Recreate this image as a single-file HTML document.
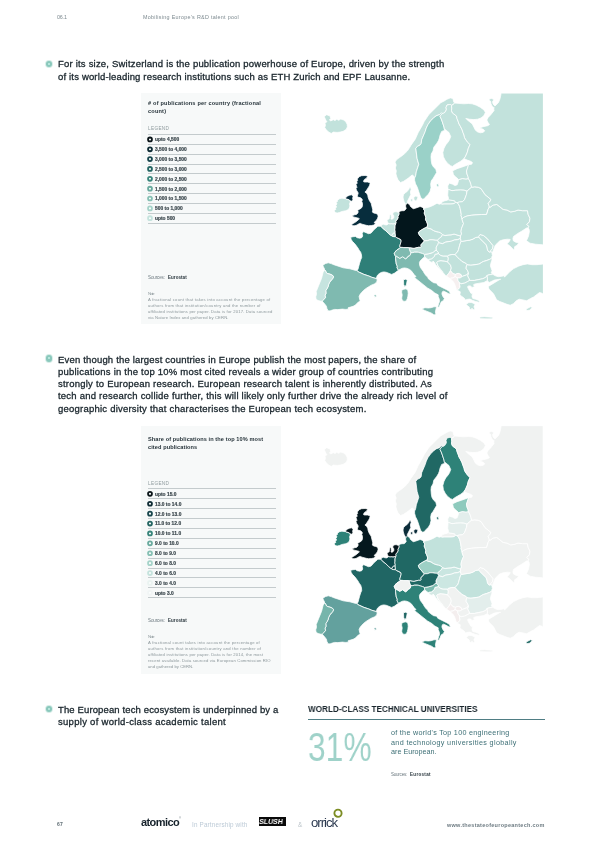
<!DOCTYPE html>
<html><head><meta charset="utf-8">
<style>
*{margin:0;padding:0;box-sizing:border-box}
html,body{width:600px;height:848px;background:#fff;overflow:hidden}
body{position:relative;font-family:"Liberation Sans",sans-serif;color:#1f2b33}
.abs{position:absolute;white-space:nowrap;will-change:transform}
.t{position:absolute;white-space:pre;transform-origin:0 50%;will-change:transform}
.bul{position:absolute;width:6.4px;height:6.4px;border-radius:50%;background:#8ac8bc;box-shadow:0 0 0 0.9px #d6ece7}
.bul:after{content:"";position:absolute;left:2.1px;top:2.1px;width:2.2px;height:2.2px;border-radius:50%;background:#c6f0e7}
.panel{position:absolute;left:141px;width:140px;background:#f7f9f9}
.rule{position:absolute;left:148px;width:128px;height:0.6px;background:#c4cbcd}
.row{will-change:transform;position:absolute;left:154.8px;font-size:4.85px;font-weight:bold;color:#39454b;-webkit-text-stroke:0.18px #39454b;white-space:nowrap;line-height:6px;letter-spacing:0.02px}
</style></head><body>

<div class="bul" style="left:45.7px;top:61.0px"></div>
<div class="bul" style="left:46.1px;top:355.2px"></div>
<div class="bul" style="left:46.1px;top:706px"></div>

<div class="panel" style="top:93px;height:231px"></div>
<div class="panel" style="top:426px;height:248px"></div>
<div class="rule" style="top:133.95px"></div><div class="rule" style="top:143.80px"></div><div class="rule" style="top:153.65px"></div><div class="rule" style="top:163.50px"></div><div class="rule" style="top:173.35px"></div><div class="rule" style="top:183.20px"></div><div class="rule" style="top:193.05px"></div><div class="rule" style="top:202.90px"></div><div class="rule" style="top:212.75px"></div><div class="rule" style="top:222.60px"></div><div class="row" style="top:137.28px">upto 4,500</div><div class="row" style="top:147.12px">3,500 to 4,000</div><div class="row" style="top:156.97px">3,000 to 3,500</div><div class="row" style="top:166.82px">2,500 to 3,000</div><div class="row" style="top:176.67px">2,000 to 2,500</div><div class="row" style="top:186.53px">1,500 to 2,000</div><div class="row" style="top:196.37px">1,000 to 1,500</div><div class="row" style="top:206.22px">500 to 1,000</div><div class="row" style="top:216.07px">upto 500</div><svg class="abs" style="left:0;top:0" width="600" height="848" viewBox="0 0 600 848"><g fill="#fbfdfd" stroke-width="1.8"><circle cx="150" cy="139.43" r="1.95" stroke="#0b1519"/><circle cx="150" cy="149.28" r="1.95" stroke="#0f2c35"/><circle cx="150" cy="159.12" r="1.95" stroke="#18464d"/><circle cx="150" cy="168.97" r="1.95" stroke="#256663"/><circle cx="150" cy="178.82" r="1.95" stroke="#38857b"/><circle cx="150" cy="188.68" r="1.95" stroke="#69aa9e"/><circle cx="150" cy="198.52" r="1.95" stroke="#86c0b4"/><circle cx="150" cy="208.38" r="1.95" stroke="#a5d3c9"/><circle cx="150" cy="218.22" r="1.95" stroke="#c5e3dd"/></g></svg>
<div class="rule" style="top:488.35px"></div><div class="rule" style="top:498.25px"></div><div class="rule" style="top:508.15px"></div><div class="rule" style="top:518.05px"></div><div class="rule" style="top:527.95px"></div><div class="rule" style="top:537.85px"></div><div class="rule" style="top:547.75px"></div><div class="rule" style="top:557.65px"></div><div class="rule" style="top:567.55px"></div><div class="rule" style="top:577.45px"></div><div class="rule" style="top:587.35px"></div><div class="rule" style="top:597.25px"></div><div class="row" style="top:491.70px">upto 15.0</div><div class="row" style="top:501.60px">13.0 to 14.0</div><div class="row" style="top:511.50px">12.0 to 13.0</div><div class="row" style="top:521.40px">11.0 to 12.0</div><div class="row" style="top:531.30px">10.0 to 11.0</div><div class="row" style="top:541.20px">9.0 to 10.0</div><div class="row" style="top:551.10px">8.0 to 9.0</div><div class="row" style="top:561.00px">6.0 to 8.0</div><div class="row" style="top:570.90px">4.0 to 6.0</div><div class="row" style="top:580.80px">3.0 to 4.0</div><div class="row" style="top:590.70px">upto 3.0</div><svg class="abs" style="left:0;top:0" width="600" height="848" viewBox="0 0 600 848"><g fill="#fbfdfd" stroke-width="1.8"><circle cx="150" cy="493.85" r="1.95" stroke="#0b1519"/><circle cx="150" cy="503.75" r="1.95" stroke="#0f2c35"/><circle cx="150" cy="513.65" r="1.95" stroke="#18464d"/><circle cx="150" cy="523.55" r="1.95" stroke="#256663"/><circle cx="150" cy="533.45" r="1.95" stroke="#38857b"/><circle cx="150" cy="543.35" r="1.95" stroke="#69aa9e"/><circle cx="150" cy="553.25" r="1.95" stroke="#86c0b4"/><circle cx="150" cy="563.15" r="1.95" stroke="#a5d3c9"/><circle cx="150" cy="573.05" r="1.95" stroke="#c5e3dd"/><circle cx="150" cy="582.95" r="1.95" stroke="#eaf3f1"/><circle cx="150" cy="592.85" r="1.95" stroke="#f1f5f5"/></g></svg>
<div class="t" style="left:57.20px;top:13.59px;font-size:5.4px;line-height:6.48px;font-weight:normal;color:#7d8a90;letter-spacing:-0.175px;">06.1</div>
<div class="t" style="left:142.80px;top:13.59px;font-size:5.4px;line-height:6.48px;font-weight:normal;color:#7d8a90;letter-spacing:0.291px;">Mobilising Europe&#x27;s R&amp;D talent pool</div>
<div class="t" style="left:57.60px;top:58.31px;font-size:9.5px;line-height:11.40px;font-weight:normal;color:#19252c;letter-spacing:0.200px;-webkit-text-stroke:0.3px #19252c;">For its size, Switzerland is the publication powerhouse of Europe, driven by the strength</div>
<div class="t" style="left:57.60px;top:70.51px;font-size:9.5px;line-height:11.40px;font-weight:normal;color:#19252c;letter-spacing:0.168px;-webkit-text-stroke:0.3px #19252c;">of its world-leading research institutions such as ETH Zurich and EPF Lausanne.</div>
<div class="t" style="left:57.60px;top:353.81px;font-size:9.5px;line-height:11.40px;font-weight:normal;color:#19252c;letter-spacing:0.180px;-webkit-text-stroke:0.3px #19252c;">Even though the largest countries in Europe publish the most papers, the share of</div>
<div class="t" style="left:57.60px;top:366.01px;font-size:9.5px;line-height:11.40px;font-weight:normal;color:#19252c;letter-spacing:0.218px;-webkit-text-stroke:0.3px #19252c;">publications in the top 10% most cited reveals a wider group of countries contributing</div>
<div class="t" style="left:57.60px;top:378.21px;font-size:9.5px;line-height:11.40px;font-weight:normal;color:#19252c;letter-spacing:0.226px;-webkit-text-stroke:0.3px #19252c;">strongly to European research. European research talent is inherently distributed. As</div>
<div class="t" style="left:57.60px;top:390.41px;font-size:9.5px;line-height:11.40px;font-weight:normal;color:#19252c;letter-spacing:0.219px;-webkit-text-stroke:0.3px #19252c;">tech and research collide further, this will likely only further drive the already rich level of</div>
<div class="t" style="left:57.60px;top:402.61px;font-size:9.5px;line-height:11.40px;font-weight:normal;color:#19252c;letter-spacing:0.227px;-webkit-text-stroke:0.3px #19252c;">geographic diversity that characterises the European tech ecosystem.</div>
<div class="t" style="left:57.60px;top:704.41px;font-size:9.5px;line-height:11.40px;font-weight:normal;color:#19252c;letter-spacing:0.127px;-webkit-text-stroke:0.3px #19252c;">The European tech ecosystem is underpinned by a</div>
<div class="t" style="left:57.60px;top:716.41px;font-size:9.5px;line-height:11.40px;font-weight:normal;color:#19252c;letter-spacing:0.288px;-webkit-text-stroke:0.3px #19252c;">supply of world-class academic talent</div>
<div class="t" style="left:148.10px;top:99.80px;font-size:5.6px;line-height:6.72px;font-weight:bold;color:#26333a;letter-spacing:0.188px;"># of publications per country (fractional</div>
<div class="t" style="left:148.10px;top:108.30px;font-size:5.6px;line-height:6.72px;font-weight:bold;color:#26333a;letter-spacing:0.188px;">count)</div>
<div class="t" style="left:148.10px;top:126.25px;font-size:4.7px;line-height:5.64px;font-weight:normal;color:#8f9b9e;letter-spacing:0.336px;">LEGEND</div>
<div class="t" style="left:148.10px;top:275.44px;font-size:4.5px;line-height:5.40px;font-weight:normal;color:#6d7a80;letter-spacing:-0.108px;">Sources:</div>
<div class="t" style="left:167.60px;top:275.44px;font-size:4.5px;line-height:5.40px;font-weight:bold;color:#26333a;letter-spacing:0.054px;">Eurostat</div>
<div class="t" style="left:148.10px;top:291.42px;font-size:4.2px;line-height:5.04px;font-weight:normal;color:#8d989c;letter-spacing:-0.823px;">Note:</div>
<div class="t" style="left:148.10px;top:297.27px;font-size:4.2px;line-height:5.04px;font-weight:normal;color:#8d989c;letter-spacing:0.224px;">A fractional count that takes into account the percentage of</div>
<div class="t" style="left:148.10px;top:303.12px;font-size:4.2px;line-height:5.04px;font-weight:normal;color:#8d989c;letter-spacing:0.219px;">authors from that institution/country and the number of</div>
<div class="t" style="left:148.10px;top:308.97px;font-size:4.2px;line-height:5.04px;font-weight:normal;color:#8d989c;letter-spacing:0.156px;">affiliated institutions per paper. Data is for 2017. Data sourced</div>
<div class="t" style="left:148.10px;top:314.82px;font-size:4.2px;line-height:5.04px;font-weight:normal;color:#8d989c;letter-spacing:0.118px;">via Nature Index and gathered by CERN.</div>
<div class="t" style="left:148.10px;top:435.70px;font-size:5.6px;line-height:6.72px;font-weight:bold;color:#26333a;letter-spacing:0.096px;">Share of publications in the top 10% most</div>
<div class="t" style="left:148.10px;top:444.20px;font-size:5.6px;line-height:6.72px;font-weight:bold;color:#26333a;letter-spacing:0.096px;">cited publications</div>
<div class="t" style="left:148.10px;top:480.75px;font-size:4.7px;line-height:5.64px;font-weight:normal;color:#8f9b9e;letter-spacing:0.336px;">LEGEND</div>
<div class="t" style="left:148.10px;top:618.34px;font-size:4.5px;line-height:5.40px;font-weight:normal;color:#6d7a80;letter-spacing:-0.108px;">Sources:</div>
<div class="t" style="left:167.60px;top:618.34px;font-size:4.5px;line-height:5.40px;font-weight:bold;color:#26333a;letter-spacing:0.054px;">Eurostat</div>
<div class="t" style="left:148.10px;top:634.22px;font-size:4.2px;line-height:5.04px;font-weight:normal;color:#8d989c;letter-spacing:-0.823px;">Note:</div>
<div class="t" style="left:148.10px;top:640.22px;font-size:4.2px;line-height:5.04px;font-weight:normal;color:#8d989c;letter-spacing:0.203px;">A fractional count takes into account the percentage of</div>
<div class="t" style="left:148.10px;top:646.22px;font-size:4.2px;line-height:5.04px;font-weight:normal;color:#8d989c;letter-spacing:0.228px;">authors from that institution/country and the number of</div>
<div class="t" style="left:148.10px;top:652.22px;font-size:4.2px;line-height:5.04px;font-weight:normal;color:#8d989c;letter-spacing:0.157px;">affiliated institutions per paper. Data is for 2014, the most</div>
<div class="t" style="left:148.10px;top:658.22px;font-size:4.2px;line-height:5.04px;font-weight:normal;color:#8d989c;letter-spacing:0.129px;">recent available. Data sourced via European Commission RIO</div>
<div class="t" style="left:148.10px;top:664.22px;font-size:4.2px;line-height:5.04px;font-weight:normal;color:#8d989c;letter-spacing:0.044px;">and gathered by CERN.</div>
<div class="t" style="left:308.00px;top:704.18px;font-size:9.0px;line-height:10.80px;font-weight:bold;color:#19252c;letter-spacing:0.000px;transform:scaleX(0.9072);">WORLD-CLASS TECHNICAL UNIVERSITIES</div>
<div class="t" style="left:390.70px;top:728.69px;font-size:7.2px;line-height:8.64px;font-weight:normal;color:#3d6f76;letter-spacing:0.278px;">of the world&#x27;s Top 100 engineering</div>
<div class="t" style="left:390.70px;top:738.59px;font-size:7.2px;line-height:8.64px;font-weight:normal;color:#3d6f76;letter-spacing:0.353px;">and technology universities globally</div>
<div class="t" style="left:390.70px;top:748.39px;font-size:7.2px;line-height:8.64px;font-weight:normal;color:#3d6f76;letter-spacing:0.003px;">are European.</div>
<div class="t" style="left:390.70px;top:772.34px;font-size:4.5px;line-height:5.40px;font-weight:normal;color:#6d7a80;letter-spacing:-0.221px;">Sources:</div>
<div class="t" style="left:409.90px;top:772.34px;font-size:4.5px;line-height:5.40px;font-weight:bold;color:#26333a;letter-spacing:0.317px;">Eurostat</div>
<div class="t" style="left:57.30px;top:821.07px;font-size:5.0px;line-height:6.00px;font-weight:bold;color:#5d6b72;letter-spacing:0.319px;">67</div>
<div class="t" style="left:192.00px;top:820.84px;font-size:6.3px;line-height:7.56px;font-weight:normal;color:#bccad6;letter-spacing:0.176px;">In Partnership with</div>
<div class="t" style="left:297.80px;top:820.84px;font-size:6.3px;line-height:7.56px;font-weight:normal;color:#bcc4ca;letter-spacing:0.176px;">&amp;</div>
<div class="t" style="left:447.00px;top:821.59px;font-size:5.5px;line-height:6.60px;font-weight:bold;color:#6d7b82;letter-spacing:0.275px;">www.thestateofeuropeantech.com</div>

<svg class="abs" style="left:0;top:0" width="600" height="848" viewBox="0 0 600 848"><defs><clipPath id="c1"><rect x="300" y="93.4" width="242.9" height="225.2"/></clipPath><clipPath id="c2"><rect x="300" y="425.7" width="242.7" height="225.9"/></clipPath></defs><g clip-path="url(#c1)"><g transform="translate(0,0)" stroke="#fff" stroke-width="0.76" stroke-linejoin="round"><path d="M324.4,116.5 324.4,117.0 326.0,120.5 327.0,121.6 325.0,123.2 325.0,123.5 325.5,125.4 324.7,127.5 326.3,129.8 328.5,132.0 331.3,133.4 333.4,132.1 337.0,132.4 340.1,132.1 343.2,131.3 346.2,129.4 347.4,126.8 347.1,124.2 345.7,121.6 343.7,120.1 340.8,119.0 338.7,120.3 336.7,119.3 335.0,120.6 333.3,119.7 330.8,120.9 329.4,120.0 330.7,118.7 330.2,116.5 329.9,116.0 326.7,114.7Z" fill="#c2e2dc"/><path d="M353.1,196.6 352.0,194.9 351.7,194.8 349.5,195.2 347.3,196.2 345.7,197.7 345.8,198.7 346.2,199.1 348.0,199.4 349.6,200.2 350.2,200.8 351.2,201.3 352.9,200.3 353.0,200.0 352.6,198.2ZM367.0,175.9 365.1,175.5 361.5,175.7 359.2,176.7 357.2,179.1 357.7,180.3 356.8,181.6 357.2,183.2 356.0,184.5 356.9,187.2 356.9,187.5 356.2,188.3 356.0,188.8 356.7,190.5 358.2,192.9 357.9,194.3 357.2,196.2 357.4,196.6 358.7,197.3 360.6,197.8 361.8,198.8 362.4,199.9 361.7,201.3 362.3,202.8 362.5,205.1 362.2,206.8 361.2,208.2 357.7,210.2 357.7,210.4 358.2,212.0 357.6,213.4 356.4,214.4 354.5,214.8 352.5,215.6 352.5,216.0 353.3,216.9 358.5,218.2 359.4,218.8 356.3,221.6 353.2,223.5 351.7,224.5 351.7,224.9 352.8,225.7 355.0,225.7 357.0,225.0 359.0,223.8 360.3,223.4 362.0,224.2 366.2,225.3 368.5,225.7 371.3,225.6 373.9,225.0 375.0,224.2 375.3,223.7 375.1,223.3 374.2,222.7 374.8,221.8 376.2,220.4 377.3,218.9 378.1,216.7 377.9,215.2 377.6,214.6 376.0,213.4 373.5,213.0 372.4,211.9 372.8,209.9 371.1,203.1 369.8,201.3 369.0,199.8 368.2,197.7 367.8,195.5 366.9,193.5 364.9,192.0 366.1,191.0 368.7,186.9 369.6,185.2 370.1,183.2 370.0,182.8 369.8,182.7 367.5,182.0 364.5,182.0 363.5,181.6 363.8,180.5 364.5,179.4 366.2,178.4 367.5,176.7 367.5,176.2Z" fill="#072d3d"/><path d="M349.8,200.5 348.0,199.5 346.2,199.2 345.6,198.7 341.9,198.2 339.5,198.7 337.7,200.0 337.5,200.3 337.5,201.4 336.5,202.1 336.2,202.5 337.0,204.0 335.8,205.3 336.6,207.0 335.5,208.1 335.4,208.3 335.8,209.4 334.4,210.4 334.2,210.8 335.0,212.2 335.4,212.5 337.1,213.1 339.4,212.5 341.8,211.5 345.8,210.7 348.0,209.8 349.4,208.0 349.9,205.9 349.5,203.8 350.3,202.0 350.0,200.8Z" fill="#c2e2dc"/><path d="M405.5,279.2 403.8,279.7 403.5,280.0 403.7,284.5 404.5,286.2 404.8,286.4 406.3,285.2 407.2,280.4 407.0,279.8ZM380.8,226.1 379.9,226.3 379.0,226.2 377.8,226.2 375.7,228.3 373.9,229.7 372.3,231.8 370.8,233.2 368.5,233.7 363.8,231.7 363.3,231.7 362.2,233.5 362.7,236.0 361.7,237.7 359.7,238.2 357.2,237.7 355.5,236.5 353.0,236.7 350.8,237.2 350.7,237.5 351.3,239.8 352.6,241.6 354.8,243.8 357.8,247.8 359.2,250.2 360.7,252.2 361.5,255.0 361.7,257.5 360.7,259.8 359.6,263.2 358.0,269.2 357.7,269.8 357.1,270.3 357.4,271.1 357.9,271.6 363.9,274.3 368.7,275.9 371.6,277.2 375.8,278.4 376.3,278.3 376.3,277.7 377.7,274.9 379.7,273.3 381.7,272.3 383.9,271.9 386.3,272.3 391.6,274.4 394.3,273.3 398.4,270.3 397.7,268.9 397.0,268.0 397.2,266.5 397.2,266.0 396.2,264.0 395.5,258.3 395.7,256.6 395.5,256.0 394.7,255.1 394.5,254.1 394.2,253.5 394.6,252.7 395.8,251.0 397.0,249.8 399.1,248.7 400.2,247.4 399.8,246.5 399.8,245.9 401.2,241.1 400.8,239.7 396.2,237.3 395.3,236.6 394.1,236.7 392.8,236.4 390.5,235.2 388.3,233.3 385.9,230.9 382.2,227.8 381.2,226.8Z" fill="#2e7f78"/><path d="M407.5,203.1 406.3,204.0 405.6,204.3 405.7,206.7 406.2,208.5 405.3,209.8 404.1,210.7 402.0,210.7 399.8,211.2 399.2,212.0 398.8,212.2 399.0,213.4 398.8,214.8 397.9,216.5 398.1,217.5 397.5,219.0 395.7,221.2 396.0,222.4 395.6,224.0 394.9,225.8 394.9,228.3 394.7,229.1 394.7,230.1 395.0,231.3 395.0,233.2 395.2,234.5 395.3,236.5 396.2,237.3 400.0,239.1 400.9,239.7 401.2,241.1 399.8,245.9 399.9,246.5 400.3,247.3 402.9,247.4 403.8,247.6 408.4,247.6 409.3,247.8 410.3,247.8 413.3,248.3 414.2,248.3 418.4,247.3 420.5,247.3 420.9,247.0 421.2,246.5 420.9,245.7 420.9,245.2 421.2,244.4 423.7,241.8 424.2,240.7 419.3,235.0 418.7,233.7 418.4,232.5 418.5,232.2 419.0,231.6 421.9,229.7 425.2,227.8 426.8,227.3 427.4,226.0 427.5,224.0 426.6,221.8 425.5,219.6 425.8,217.5 425.0,215.0 424.2,213.1 424.8,211.0 423.5,209.0 423.7,208.3 423.1,208.1 422.2,207.2 420.1,206.5 415.3,208.2 413.2,208.7 410.3,206.3 409.9,205.0 409.7,204.7 408.0,203.6Z" fill="#03161c"/><path d="M398.8,212.2 397.7,212.2 396.8,211.8 395.0,211.7 393.0,212.6 392.8,214.3 393.7,215.6 393.9,217.1 393.5,218.2 392.6,219.0 391.5,219.2 391.0,219.0 391.3,217.7 391.0,214.7 390.6,214.5 389.6,215.0 389.2,218.8 388.1,219.2 387.0,220.8 388.0,222.7 388.1,223.4 390.0,224.0 392.0,223.8 393.0,224.1 394.6,223.6 395.6,223.6 395.9,222.4 395.7,221.2 397.5,219.0 398.0,217.5 397.8,216.5 398.7,214.8 399.0,213.4Z" fill="#c2e2dc"/><path d="M381.7,224.8 381.3,225.7 380.8,226.0 381.3,226.8 384.0,229.3 385.9,230.8 388.3,233.2 390.7,235.2 391.7,235.7 392.8,233.7 393.5,233.2 394.9,232.9 395.0,232.3 395.0,231.3 394.7,230.1 394.7,229.1 394.8,228.3 394.8,225.8 395.6,223.7 394.6,223.7 393.0,224.2 392.0,223.8 390.0,224.0 388.1,223.5 387.8,224.3 386.9,224.9 385.0,224.8 383.6,224.3Z" fill="#c2e2dc"/><path d="M394.9,233.0 393.5,233.3 392.8,233.7 391.7,235.7 392.2,236.1 393.7,236.6 395.2,236.5 395.2,234.5Z" fill="#c2e2dc"/><path d="M375.5,294.7 374.3,295.0 374.0,295.3 374.7,297.0 375.0,297.2 376.2,296.5 376.5,296.1 375.9,294.9ZM322.5,301.5 324.9,304.2 326.4,306.2 326.9,308.4 327.9,310.4 328.3,310.7 330.0,310.9 332.2,310.1 334.7,309.4 337.8,309.6 342.5,309.1 345.1,309.4 348.2,309.3 348.4,309.0 348.0,308.0 348.1,307.8 353.1,306.3 355.1,305.3 358.4,302.0 360.1,300.9 360.2,300.7 359.6,299.2 359.1,296.4 360.0,294.5 361.6,292.4 363.8,290.2 366.4,288.2 371.3,285.2 374.3,284.0 376.3,282.5 376.7,281.9 377.2,280.0 377.2,279.7 376.6,279.2 376.3,278.4 375.8,278.5 371.6,277.2 368.7,276.0 363.9,274.4 359.2,272.3 357.7,271.5 357.3,271.1 357.1,270.3 355.7,270.4 349.8,268.8 343.2,267.8 333.8,264.7 331.2,263.6 328.3,262.8 325.6,263.5 323.2,264.9 322.9,265.3 323.4,266.8 324.5,269.0 324.5,270.2 325.5,270.5 326.3,272.6 327.8,273.6 330.0,274.1 332.0,275.0 333.5,276.2 333.5,276.5 333.0,278.5 331.4,280.0 329.8,282.1 328.7,284.3 328.3,286.3 327.0,288.8 325.8,290.6 326.1,293.3 325.1,295.3 325.5,297.6 322.8,300.5Z" fill="#7fbab0"/><path d="M324.5,270.2 323.7,271.2 323.0,272.7 321.6,278.2 316.2,291.6 316.5,294.3 315.7,296.9 316.1,298.9 316.4,299.5 318.1,300.5 320.2,301.1 321.8,301.2 322.3,301.5 322.8,300.5 325.5,297.6 325.0,295.3 326.0,293.3 325.8,290.6 327.0,288.8 328.2,286.3 328.7,284.3 329.8,282.1 331.3,280.0 332.9,278.5 333.5,276.5 333.4,276.2 332.0,275.0 330.0,274.2 327.8,273.7 326.3,272.7 325.4,270.5Z" fill="#c6e4df"/><path d="M418.5,232.5 418.7,233.7 419.6,235.3 424.2,240.7 424.7,240.8 427.5,240.7 430.0,239.7 432.1,239.7 435.2,240.2 437.5,240.3 439.6,238.0 441.5,236.6 442.5,234.6 440.8,233.0 438.6,232.1 436.0,231.6 433.4,230.5 431.0,228.9 428.0,228.3 426.8,227.4 425.2,227.9 421.9,229.7 419.0,231.7Z" fill="#c2e2dc"/><path d="M460.5,236.4 460.4,236.0 454.1,234.1 451.1,234.9 447.9,235.1 445.2,235.6 442.5,234.6 441.6,236.6 439.6,238.1 437.5,240.3 438.6,242.6 439.7,243.0 442.6,243.6 445.5,242.1 451.3,241.2 454.5,239.9 457.6,239.6 460.0,238.7 460.3,238.7Z" fill="#c2e2dc"/><path d="M460.4,238.7 460.0,238.7 457.6,239.7 454.5,240.0 451.3,241.2 445.5,242.2 442.6,243.7 440.2,243.2 438.6,242.7 438.0,243.5 438.0,244.1 437.1,245.4 436.0,247.8 436.3,250.3 438.1,252.0 438.3,252.6 438.5,253.7 440.2,255.2 442.0,255.9 443.2,256.1 447.7,256.1 448.5,255.3 452.0,254.4 455.0,254.7 455.7,253.6 457.5,252.0 458.5,249.7 459.6,245.2 460.7,242.1 461.1,241.5 460.9,241.2 460.9,240.2Z" fill="#c2e2dc"/><path d="M438.2,252.3 437.8,251.7 436.3,250.4 435.0,250.7 433.4,252.1 432.5,252.7 428.3,253.9 424.6,254.4 424.5,257.2 425.2,257.2 425.8,257.5 426.8,258.8 427.8,259.2 428.5,259.7 428.9,259.3 431.6,259.1 434.5,256.2 435.2,254.2 435.9,254.3 438.3,253.7Z" fill="#c2e2dc"/><path d="M435.2,254.2 434.8,255.8 434.6,256.2 431.7,259.1 428.9,259.4 428.6,259.7 429.2,260.7 430.3,261.8 432.0,262.4 432.4,262.2 433.1,261.1 434.3,262.3 435.7,264.7 437.6,267.1 442.5,271.9 442.7,271.7 440.4,269.2 438.0,266.0 436.7,262.5 437.0,262.4 437.3,261.8 437.6,261.6 440.2,260.8 442.6,260.9 447.4,261.7 448.0,260.8 448.3,258.8 447.8,256.5 447.7,256.2 443.2,256.2 442.0,256.0 440.2,255.2 438.4,253.7 435.9,254.4Z" fill="#c2e2dc"/><path d="M438.5,242.5 437.5,240.4 437.3,240.3 435.2,240.2 432.1,239.8 430.0,239.8 427.5,240.7 424.2,240.8 423.8,241.8 421.3,244.4 421.0,245.2 421.0,245.7 421.2,246.5 420.7,247.3 418.4,247.3 414.2,248.4 412.3,248.3 410.3,247.9 409.3,247.9 409.2,249.2 409.6,249.5 410.0,251.2 410.3,251.5 410.8,252.7 412.5,252.6 414.6,252.1 417.2,252.1 418.5,252.3 420.1,252.9 422.2,253.4 424.5,254.4 428.3,253.8 432.5,252.6 433.4,252.0 435.0,250.7 436.2,250.3 435.9,247.8 437.0,245.4 438.0,244.1 437.9,243.5 438.5,242.7Z" fill="#c2e2dc"/><path d="M458.0,203.5 457.2,202.8 455.5,202.2 455.1,202.5 454.2,203.6 450.8,203.9 444.1,203.9 441.5,204.1 441.0,203.6 440.4,203.9 439.1,204.2 437.0,203.2 433.1,205.4 429.4,207.0 426.0,207.8 424.8,208.3 423.7,208.3 423.5,209.0 424.8,211.0 424.2,213.1 425.0,215.0 425.8,217.5 425.5,219.6 426.7,221.8 427.6,224.3 427.5,226.0 426.8,227.4 428.0,228.2 431.0,228.8 433.4,230.5 436.0,231.5 438.6,232.0 440.8,232.9 442.5,234.5 445.0,235.5 447.9,235.0 451.1,234.8 454.1,234.0 460.5,236.0 461.5,234.0 461.0,231.7 461.4,228.7 463.5,223.5 462.4,220.9 461.7,217.4 461.0,215.5 461.2,214.4 460.5,210.0 460.1,209.0 460.2,208.7 459.5,206.2Z" fill="#c2e2dc"/><path d="M455.3,202.2 454.9,201.2 454.5,200.8 448.7,199.8 448.2,199.5 447.5,200.2 445.0,200.7 442.3,201.7 441.6,203.1 441.2,203.5 441.5,204.0 444.1,203.8 450.8,203.8 454.2,203.5Z" fill="#c2e2dc"/><path d="M468.5,164.7 461.6,167.2 457.0,168.7 452.7,170.8 452.7,171.2 453.3,174.3 454.6,176.1 456.7,177.7 458.3,179.3 458.4,179.7 462.4,178.7 465.8,179.2 468.5,178.7 468.0,176.5 467.0,174.1 466.5,171.2 468.5,165.1Z" fill="#c2e2dc"/><path d="M471.5,187.1 471.0,184.5 470.0,181.7 468.5,178.7 466.2,179.2 462.4,178.7 458.4,179.8 458.5,180.6 458.2,181.8 457.2,184.8 455.0,185.6 452.6,184.2 449.5,183.2 449.2,183.4 447.7,186.0 448.1,189.5 448.6,189.5 452.0,190.7 455.8,190.2 460.7,190.0 464.1,190.2 467.0,191.2 469.2,189.1 471.3,187.4Z" fill="#c2e2dc"/><path d="M448.1,189.5 447.7,195.2 448.5,198.2 448.5,199.0 448.3,199.5 448.5,199.7 454.5,200.8 455.0,201.2 455.4,202.2 457.0,202.7 459.5,202.0 462.5,201.7 464.5,199.7 466.5,194.3 466.9,191.2 464.1,190.2 460.7,190.0 455.8,190.2 452.0,190.7 448.6,189.5Z" fill="#c2e2dc"/><path d="M481.0,188.5 478.2,187.2 474.8,186.9 471.5,187.3 469.2,189.2 467.0,191.2 466.5,194.3 464.5,199.7 462.5,201.7 459.5,202.0 457.7,202.5 457.2,202.8 458.1,203.5 459.6,206.2 460.2,208.7 460.2,209.0 460.5,210.0 461.3,214.4 461.0,215.5 461.8,217.4 462.0,219.0 463.5,217.5 467.3,215.9 472.5,215.1 481.6,214.5 486.5,214.4 488.0,209.5 489.2,207.2 489.2,205.9 488.0,203.5 489.5,202.0 491.0,199.5 484.9,194.5Z" fill="#c2e2dc"/><path d="M452.8,98.5 450.4,97.9 450.0,98.0 446.9,99.3 444.2,101.0 440.8,102.7 428.9,114.5 424.2,121.5 422.3,125.4 418.1,132.7 415.1,139.6 414.7,139.9 411.0,145.2 409.3,148.1 407.5,150.8 404.7,153.6 402.5,155.4 399.5,157.6 397.0,159.2 395.5,161.3 395.1,162.2 396.2,165.1 395.3,168.0 396.3,170.8 395.9,173.8 396.8,177.0 398.0,179.8 400.3,182.4 400.5,182.5 403.3,181.5 408.1,178.3 412.1,175.0 413.4,175.7 414.6,177.5 415.0,177.5 415.8,175.1 416.2,172.3 416.6,170.7 418.7,164.3 417.0,158.4 415.8,148.3 417.5,146.2 420.0,145.0 421.2,143.5 421.7,139.7 425.2,131.6 426.3,128.0 428.0,124.6 430.3,121.1 433.5,117.9 436.3,115.7 439.8,114.5 441.5,112.8 442.2,113.5 443.4,113.3 444.2,112.9 445.0,112.1 446.3,110.0 446.3,109.3 446.0,107.5 447.0,105.0 449.4,104.5 450.3,104.5 451.5,105.2 451.9,105.2 454.3,103.5 454.7,103.0 454.0,102.5 453.8,102.1 453.0,99.0Z" fill="#c2e2dc"/><path d="M438.1,183.8 436.7,184.2 436.5,184.5 437.0,186.5 437.3,186.7 438.6,186.2 438.8,185.8 438.4,184.0ZM441.5,112.8 439.8,114.6 436.1,115.9 433.5,118.0 430.4,121.1 428.0,124.6 426.3,128.0 425.2,131.6 421.7,139.7 421.2,143.5 420.0,145.1 417.5,146.3 415.8,148.3 417.1,158.4 418.8,164.3 416.3,171.8 415.8,175.1 415.0,177.6 414.6,177.6 414.6,180.2 415.5,183.8 417.3,187.3 420.7,197.6 422.8,199.3 424.0,198.8 424.4,198.5 425.9,196.7 428.4,194.2 430.0,191.5 431.0,187.7 430.7,184.0 431.3,180.8 433.1,178.4 436.6,172.5 435.9,169.3 433.5,167.0 431.9,164.2 431.3,161.0 431.0,157.0 431.3,153.8 433.0,151.0 433.8,147.2 436.9,143.2 438.5,140.5 439.4,138.1 440.0,135.3 441.7,131.4 444.6,130.4 444.0,127.0 442.0,121.0 441.1,118.8 440.0,116.6 440.5,115.4 442.2,113.6Z" fill="#9ad1c8"/><path d="M449.4,104.5 447.0,105.0 446.0,107.5 446.4,109.3 446.3,110.0 445.0,112.1 444.2,113.0 443.4,113.3 442.2,113.6 440.6,115.4 440.0,116.6 441.2,118.8 442.0,121.0 444.0,127.0 444.6,130.3 444.7,130.3 445.5,129.5 446.9,130.9 448.8,132.3 449.8,134.5 450.7,136.5 449.6,139.6 448.3,141.8 445.7,144.9 444.0,148.3 442.8,152.5 443.4,156.8 445.2,160.3 447.4,163.2 450.6,165.8 452.5,166.4 455.1,164.5 460.8,161.2 463.3,159.2 464.0,159.0 464.1,158.4 465.6,156.1 467.3,152.1 468.2,148.5 470.0,144.5 467.8,142.4 466.1,140.2 464.6,137.8 464.0,135.0 463.0,132.6 462.0,129.7 460.3,126.3 458.9,123.9 458.0,121.0 457.0,118.6 456.5,116.0 452.5,113.0 451.5,110.6 451.8,108.2 451.5,105.8 451.5,105.3 450.3,104.5Z" fill="#c2e2dc"/><path d="M412.3,198.7 412.1,198.7 410.6,199.2 410.8,201.1 411.0,201.6 411.5,201.6 412.8,201.0 412.7,199.8ZM415.8,196.0 413.9,197.2 413.7,197.5 414.0,199.8 415.8,201.0 416.2,200.7 417.4,199.0 417.9,197.1 417.7,196.7ZM410.0,187.2 409.7,187.4 408.5,189.8 406.8,191.8 404.9,193.0 403.5,194.7 403.0,197.0 403.3,199.0 404.2,201.8 405.6,204.2 406.3,204.0 407.5,203.0 407.3,202.5 407.3,201.6 410.8,194.6 410.4,192.0 411.2,189.2 410.3,187.3Z" fill="#c2e2dc"/><path d="M435.8,314.2 435.9,314.0 435.4,311.9 436.4,307.2 436.2,306.7 434.0,306.8 431.1,307.7 428.3,308.0 425.0,307.7 422.2,308.7 422.2,308.8 422.4,309.2 424.1,310.2 431.6,313.2 433.8,314.8 434.1,314.9ZM406.0,288.8 403.8,289.2 401.8,290.2 401.7,290.5 401.7,292.7 402.2,294.9 401.7,298.2 402.2,300.2 404.0,301.4 405.9,301.0 406.3,300.7 407.3,298.7 407.9,296.2 408.2,293.3 407.9,290.5 407.5,290.0ZM395.8,256.6 395.6,258.3 396.3,264.0 397.1,265.7 397.3,266.5 397.0,268.0 397.8,268.9 398.5,270.2 402.2,268.3 404.4,267.9 406.8,268.3 409.5,269.4 411.3,270.8 414.1,274.6 416.0,276.5 414.7,277.3 414.7,277.7 427.4,287.9 432.3,290.8 434.3,292.8 438.2,294.8 438.2,296.6 439.2,299.0 439.5,301.5 438.5,304.0 437.8,306.8 438.2,307.2 439.2,306.8 441.3,301.8 443.3,300.7 444.4,298.5 442.9,296.5 441.9,294.0 442.3,291.8 443.5,291.2 445.6,292.0 448.3,293.5 449.9,293.9 450.2,293.8 450.4,293.5 449.2,291.2 446.7,289.7 437.8,285.3 436.7,283.2 433.6,282.7 430.8,280.8 427.9,278.3 427.8,277.3 425.7,275.2 424.3,273.3 423.2,271.2 420.4,267.5 419.6,265.1 419.4,262.5 420.3,260.8 423.6,257.5 424.1,257.2 424.5,257.2 424.5,254.5 422.5,253.6 418.3,252.3 417.2,252.2 414.6,252.2 412.5,252.7 410.8,252.7 410.6,254.2 409.7,255.7 408.0,256.3 407.2,257.7 405.5,258.8 402.5,256.8 401.2,257.7 399.5,258.3 396.5,256.3Z" fill="#7fbab0"/><path d="M400.3,247.4 399.1,248.8 397.0,249.9 395.9,251.0 394.9,252.3 394.3,253.5 394.6,254.1 394.8,255.1 395.5,256.0 395.7,256.5 396.5,256.2 399.5,258.2 400.9,257.8 402.5,256.7 405.5,258.7 407.0,257.8 408.0,256.2 409.5,255.7 410.5,254.2 410.7,252.6 410.2,251.5 409.9,251.2 409.5,249.5 409.1,249.2 409.3,247.9 408.4,247.7 403.8,247.7 402.9,247.5Z" fill="#7fbab0"/><path d="M478.7,237.0 475.5,237.6 472.9,239.2 470.1,240.1 461.2,241.5 460.8,241.8 459.7,245.2 458.5,249.7 457.7,251.8 455.8,253.6 455.1,254.7 456.2,256.0 459.5,259.3 460.8,260.2 462.2,261.6 465.7,263.3 467.3,264.8 470.8,265.2 474.0,264.8 478.3,264.2 479.8,263.6 481.7,262.3 483.3,261.5 486.3,260.6 489.8,259.3 491.3,258.5 491.4,258.1 491.9,257.8 491.8,256.9 492.4,255.6 492.0,253.5 492.1,252.3 491.0,251.8 489.0,252.1 487.5,250.0 487.0,247.0 486.0,244.5 479.9,238.5Z" fill="#c2e2dc"/><path d="M491.9,257.8 491.5,258.1 491.3,258.6 489.8,259.3 486.3,260.7 483.3,261.5 481.7,262.4 479.8,263.7 478.3,264.2 474.0,264.9 470.8,265.2 467.7,265.0 467.0,264.7 466.3,265.8 465.9,268.3 467.5,270.7 468.4,273.3 467.6,275.9 469.0,278.6 469.7,280.4 474.3,280.4 482.6,278.7 485.5,277.5 487.2,275.3 490.0,274.5 492.5,274.5 492.7,274.3 491.3,272.9 492.1,270.8 490.4,265.9 490.8,263.5 491.7,260.7 492.1,258.5Z" fill="#c2e2dc"/><path d="M437.3,261.8 436.8,262.6 438.1,266.0 440.5,269.2 442.7,271.7 442.5,272.0 445.8,275.8 446.6,276.2 446.8,275.7 448.8,273.3 450.5,270.7 451.3,267.9 450.5,265.0 447.4,261.8 444.8,261.3 441.3,260.9 440.2,260.9 438.3,261.3Z" fill="#c2e2dc"/><path d="M448.3,255.5 447.7,256.2 448.3,258.0 448.3,258.8 448.0,260.8 447.5,261.8 450.6,265.2 451.3,268.0 450.5,270.8 453.0,273.7 455.6,274.3 458.1,273.3 461.0,274.5 461.8,276.7 463.8,275.8 466.3,275.0 468.3,273.3 467.5,270.7 465.8,268.3 466.3,265.8 467.0,264.7 466.0,263.6 464.7,262.8 462.2,261.7 460.8,260.3 459.5,259.3 455.0,254.7 452.0,254.5Z" fill="#c2e2dc"/><path d="M450.5,270.8 448.9,273.3 446.9,275.7 446.7,276.2 448.2,277.3 450.2,278.6 450.8,278.2 453.0,277.9 455.0,276.7 455.5,274.5 455.3,274.3 453.0,273.8Z" fill="#f6f0f0"/><path d="M455.1,276.6 457.6,277.9 460.1,277.9 461.8,276.7 461.0,274.6 458.1,273.3 455.5,274.3Z" fill="#f6f0f0"/><path d="M455.1,276.7 453.0,278.0 450.5,278.3 450.3,278.7 453.5,281.9 454.8,284.5 456.5,289.7 458.5,289.2 460.0,287.0 459.3,282.7 458.0,280.5 457.5,277.9Z" fill="#f6f0f0"/><path d="M468.3,273.3 466.3,275.0 462.2,276.5 460.1,278.0 457.6,278.0 458.0,280.5 459.2,282.5 461.0,283.7 464.5,283.1 467.2,281.8 469.5,280.5 468.9,278.6 467.5,275.9Z" fill="#c2e2dc"/><path d="M479.8,317.3 480.0,318.5 480.3,318.7 487.2,319.1 492.0,318.9 492.3,318.7 492.6,317.7 492.5,317.3 492.2,317.2 484.4,316.7 480.2,317.0ZM466.3,304.2 466.3,304.5 467.7,306.1 469.2,306.9 469.5,308.7 469.8,309.2 470.9,309.5 471.2,309.4 472.0,308.2 473.1,309.7 474.3,309.5 474.8,309.3 474.8,308.9 474.2,307.6 474.0,306.0 475.1,305.3 475.3,305.0 474.0,303.4 471.3,302.5 469.2,302.6 468.3,302.8ZM487.0,275.5 485.5,277.5 482.6,278.8 474.3,280.5 469.6,280.5 464.8,283.1 461.1,283.8 459.3,282.5 460.1,287.1 458.5,289.2 456.7,289.6 456.5,289.8 460.3,291.8 460.0,294.3 460.0,294.7 461.9,296.6 464.1,298.0 465.2,299.8 465.5,299.9 467.7,299.3 470.0,299.1 472.4,300.3 475.3,301.4 479.0,302.2 479.3,302.1 479.5,301.7 478.9,300.5 475.2,299.1 472.8,298.5 472.7,298.3 472.0,296.6 472.4,293.9 472.3,293.5 472.0,293.3 471.3,293.6 471.1,293.5 468.5,289.1 467.5,286.7 468.6,285.9 470.4,285.9 472.0,287.4 474.2,286.8 474.4,286.5 473.5,284.7 475.1,283.9 483.8,282.5 486.2,281.2 487.3,281.1 487.4,278.8Z" fill="#c2e2dc"/><path d="M480.0,234.5 478.7,236.3 478.7,236.9 480.0,238.5 486.0,244.5 487.0,247.0 487.5,250.0 489.0,252.0 490.8,251.7 490.6,250.7 492.5,248.8 493.1,245.7 487.3,238.7 483.8,235.7Z" fill="#c2e2dc"/><path d="M527.5,210.7 522.3,210.7 518.1,210.1 514.5,211.3 510.7,212.0 507.0,210.1 503.2,209.5 496.8,204.5 493.2,205.1 490.2,207.2 489.2,207.2 488.1,209.5 486.8,214.0 486.5,214.5 481.6,214.5 471.8,215.2 467.0,216.0 463.5,217.5 462.0,219.0 462.5,220.9 463.5,223.6 461.5,228.5 461.0,231.3 461.5,234.0 460.5,236.0 460.4,238.6 461.0,240.2 461.0,241.2 461.2,241.5 466.8,240.5 469.8,240.1 472.9,239.1 475.5,237.5 478.6,236.9 478.7,236.3 480.1,234.4 483.8,235.7 487.3,238.6 493.2,245.7 492.5,248.8 490.7,250.7 490.8,251.7 492.2,252.2 492.8,251.5 495.3,245.2 499.6,241.0 503.1,239.8 507.3,239.2 510.2,239.4 509.5,241.3 507.2,243.6 507.2,244.0 509.7,245.8 513.6,249.7 514.0,249.7 514.2,249.2 514.7,246.6 517.0,245.4 518.5,243.2 518.2,242.8 515.8,242.2 513.4,240.9 512.9,238.7 513.5,236.5 517.8,233.4 522.0,231.0 526.5,228.0 527.2,227.9 528.1,228.0 528.1,227.7 528.7,226.4 526.8,224.4 529.3,221.9 530.0,218.2 528.1,214.5Z" fill="#c2e2dc"/><path d="M454.7,103.1 454.0,103.8 452.0,105.2 451.6,105.3 451.5,105.8 451.8,108.2 451.5,110.6 452.5,113.0 456.5,116.0 457.0,118.6 458.0,121.0 459.0,123.9 460.4,126.3 462.1,129.7 463.0,132.6 464.0,135.0 464.5,137.5 466.2,140.2 467.9,142.4 470.0,144.5 468.3,148.5 467.4,152.1 465.7,156.1 464.2,158.4 464.1,159.0 464.8,159.0 467.8,160.3 470.7,161.3 472.5,162.6 471.7,164.2 468.5,164.7 468.5,165.1 466.5,171.0 467.0,174.1 468.0,176.5 468.5,178.7 470.1,181.7 471.0,184.5 471.5,187.2 474.8,186.8 478.2,187.2 481.0,188.5 485.0,194.5 491.0,199.5 489.6,202.0 488.0,203.5 489.2,205.9 489.3,207.2 490.2,207.1 493.2,205.0 496.9,204.4 503.2,209.4 507.0,210.0 510.7,211.9 514.5,211.3 518.1,210.0 522.3,210.7 527.5,210.7 528.2,214.5 530.0,218.3 529.4,221.9 526.9,224.4 528.8,226.3 528.1,228.1 528.7,228.6 529.0,229.0 529.4,231.4 528.5,236.1 526.6,240.4 526.6,240.8 529.7,243.0 530.2,243.2 535.5,244.2 542.8,244.8 545.2,244.7 545.4,244.4 545.3,92.8 545.0,92.7 501.5,92.7 501.2,92.8 500.5,96.8 499.5,100.3 498.3,102.8 495.0,106.0 494.0,105.2 493.0,103.8 492.5,101.6 493.2,100.9 493.6,99.6 493.5,99.3 491.6,98.5 489.3,98.9 489.2,99.3 489.4,100.4 490.7,101.3 491.0,103.8 492.2,106.2 493.7,107.4 494.2,107.6 493.7,109.0 494.1,110.5 490.8,114.7 488.2,117.4 486.8,120.0 488.2,122.7 489.5,124.5 487.8,125.7 483.0,126.7 480.3,127.7 480.2,128.0 480.3,128.3 483.3,129.3 484.7,130.8 483.3,132.3 480.2,132.8 477.2,131.8 475.3,129.9 472.3,124.0 466.8,119.5 465.8,118.4 469.4,119.2 473.8,119.6 477.6,119.2 481.0,118.0 483.8,115.7 485.3,112.7 485.2,112.1 483.9,109.9 480.2,107.2 476.3,105.2 472.1,103.8 468.3,103.5 463.7,103.8Z" fill="#c2e2dc"/><path d="M545.8,264.1 545.2,263.9 536.9,264.7 531.9,264.7 527.4,263.9 523.0,264.7 518.5,266.2 513.7,268.6 510.2,271.3 504.4,277.2 504.6,276.0 504.2,275.7 501.8,276.3 498.3,276.7 495.3,275.8 492.8,274.3 492.5,274.6 490.0,274.6 487.2,275.4 487.1,275.8 487.5,278.8 487.3,281.1 487.9,281.3 489.2,282.5 494.3,280.0 500.2,279.2 500.7,279.3 499.3,279.8 488.4,286.4 488.2,286.8 488.9,289.1 493.5,293.7 496.6,299.8 499.8,301.5 507.0,304.3 510.2,305.2 513.4,303.7 516.5,300.6 519.3,299.2 526.7,300.7 527.0,300.6 530.5,298.5 533.7,296.9 539.5,292.5 541.5,293.0 545.1,295.2 545.7,295.3 545.9,295.0Z" fill="#c2e2dc"/><path d="M532.3,307.5 530.5,306.8 526.3,308.9 526.1,309.3 526.7,310.3 527.1,310.5 529.3,310.3 532.3,307.8Z" fill="#c2e2dc"/></g></g><g clip-path="url(#c2)"><g transform="translate(0,333)" stroke="#fff" stroke-width="0.76" stroke-linejoin="round"><path d="M324.4,116.5 324.4,117.0 326.0,120.5 327.0,121.6 325.0,123.2 325.0,123.5 325.5,125.4 324.7,127.5 326.3,129.8 328.5,132.0 331.3,133.4 333.4,132.1 337.0,132.4 340.1,132.1 343.2,131.3 346.2,129.4 347.4,126.8 347.1,124.2 345.7,121.6 343.7,120.1 340.8,119.0 338.7,120.3 336.7,119.3 335.0,120.6 333.3,119.7 330.8,120.9 329.4,120.0 330.7,118.7 330.2,116.5 329.9,116.0 326.7,114.7Z" fill="#f0f2f1"/><path d="M353.1,196.6 352.0,194.9 351.7,194.8 349.5,195.2 347.3,196.2 345.7,197.7 345.8,198.7 346.2,199.1 348.0,199.4 349.6,200.2 350.2,200.8 351.2,201.3 352.9,200.3 353.0,200.0 352.6,198.2ZM367.0,175.9 365.1,175.5 361.5,175.7 359.2,176.7 357.2,179.1 357.7,180.3 356.8,181.6 357.2,183.2 356.0,184.5 356.9,187.2 356.9,187.5 356.2,188.3 356.0,188.8 356.7,190.5 358.2,192.9 357.9,194.3 357.2,196.2 357.4,196.6 358.7,197.3 360.6,197.8 361.8,198.8 362.4,199.9 361.7,201.3 362.3,202.8 362.5,205.1 362.2,206.8 361.2,208.2 357.7,210.2 357.7,210.4 358.2,212.0 357.6,213.4 356.4,214.4 354.5,214.8 352.5,215.6 352.5,216.0 353.3,216.9 358.5,218.2 359.4,218.8 356.3,221.6 353.2,223.5 351.7,224.5 351.7,224.9 352.8,225.7 355.0,225.7 357.0,225.0 359.0,223.8 360.3,223.4 362.0,224.2 366.2,225.3 368.5,225.7 371.3,225.6 373.9,225.0 375.0,224.2 375.3,223.7 375.1,223.3 374.2,222.7 374.8,221.8 376.2,220.4 377.3,218.9 378.1,216.7 377.9,215.2 377.6,214.6 376.0,213.4 373.5,213.0 372.4,211.9 372.8,209.9 371.1,203.1 369.8,201.3 369.0,199.8 368.2,197.7 367.8,195.5 366.9,193.5 364.9,192.0 366.1,191.0 368.7,186.9 369.6,185.2 370.1,183.2 370.0,182.8 369.8,182.7 367.5,182.0 364.5,182.0 363.5,181.6 363.8,180.5 364.5,179.4 366.2,178.4 367.5,176.7 367.5,176.2Z" fill="#05181e"/><path d="M349.8,200.5 348.0,199.5 346.2,199.2 345.6,198.7 341.9,198.2 339.5,198.7 337.7,200.0 337.5,200.3 337.5,201.4 336.5,202.1 336.2,202.5 337.0,204.0 335.8,205.3 336.6,207.0 335.5,208.1 335.4,208.3 335.8,209.4 334.4,210.4 334.2,210.8 335.0,212.2 335.4,212.5 337.1,213.1 339.4,212.5 341.8,211.5 345.8,210.7 348.0,209.8 349.4,208.0 349.9,205.9 349.5,203.8 350.3,202.0 350.0,200.8Z" fill="#2e8278"/><path d="M405.5,279.2 403.8,279.7 403.5,280.0 403.7,284.5 404.5,286.2 404.8,286.4 406.3,285.2 407.2,280.4 407.0,279.8ZM380.8,226.1 379.9,226.3 379.0,226.2 377.8,226.2 375.7,228.3 373.9,229.7 372.3,231.8 370.8,233.2 368.5,233.7 363.8,231.7 363.3,231.7 362.2,233.5 362.7,236.0 361.7,237.7 359.7,238.2 357.2,237.7 355.5,236.5 353.0,236.7 350.8,237.2 350.7,237.5 351.3,239.8 352.6,241.6 354.8,243.8 357.8,247.8 359.2,250.2 360.7,252.2 361.5,255.0 361.7,257.5 360.7,259.8 359.6,263.2 358.0,269.2 357.7,269.8 357.1,270.3 357.4,271.1 357.9,271.6 363.9,274.3 368.7,275.9 371.6,277.2 375.8,278.4 376.3,278.3 376.3,277.7 377.7,274.9 379.7,273.3 381.7,272.3 383.9,271.9 386.3,272.3 391.6,274.4 394.3,273.3 398.4,270.3 397.7,268.9 397.0,268.0 397.2,266.5 397.2,266.0 396.2,264.0 395.5,258.3 395.7,256.6 395.5,256.0 394.7,255.1 394.5,254.1 394.2,253.5 394.6,252.7 395.8,251.0 397.0,249.8 399.1,248.7 400.2,247.4 399.8,246.5 399.8,245.9 401.2,241.1 400.8,239.7 396.2,237.3 395.3,236.6 394.1,236.7 392.8,236.4 390.5,235.2 388.3,233.3 385.9,230.9 382.2,227.8 381.2,226.8Z" fill="#206664"/><path d="M407.5,203.1 406.3,204.0 405.6,204.3 405.7,206.7 406.2,208.5 405.3,209.8 404.1,210.7 402.0,210.7 399.8,211.2 399.2,212.0 398.8,212.2 399.0,213.4 398.8,214.8 397.9,216.5 398.1,217.5 397.5,219.0 395.7,221.2 396.0,222.4 395.6,224.0 394.9,225.8 394.9,228.3 394.7,229.1 394.7,230.1 395.0,231.3 395.0,233.2 395.2,234.5 395.3,236.5 396.2,237.3 400.0,239.1 400.9,239.7 401.2,241.1 399.8,245.9 399.9,246.5 400.3,247.3 402.9,247.4 403.8,247.6 408.4,247.6 409.3,247.8 410.3,247.8 413.3,248.3 414.2,248.3 418.4,247.3 420.5,247.3 420.9,247.0 421.2,246.5 420.9,245.7 420.9,245.2 421.2,244.4 423.7,241.8 424.2,240.7 419.3,235.0 418.7,233.7 418.4,232.5 418.5,232.2 419.0,231.6 421.9,229.7 425.2,227.8 426.8,227.3 427.4,226.0 427.5,224.0 426.6,221.8 425.5,219.6 425.8,217.5 425.0,215.0 424.2,213.1 424.8,211.0 423.5,209.0 423.7,208.3 423.1,208.1 422.2,207.2 420.1,206.5 415.3,208.2 413.2,208.7 410.3,206.3 409.9,205.0 409.7,204.7 408.0,203.6Z" fill="#206864"/><path d="M398.8,212.2 397.7,212.2 396.8,211.8 395.0,211.7 393.0,212.6 392.8,214.3 393.7,215.6 393.9,217.1 393.5,218.2 392.6,219.0 391.5,219.2 391.0,219.0 391.3,217.7 391.0,214.7 390.6,214.5 389.6,215.0 389.2,218.8 388.1,219.2 387.0,220.8 388.0,222.7 388.1,223.4 390.0,224.0 392.0,223.8 393.0,224.1 394.6,223.6 395.6,223.6 395.9,222.4 395.7,221.2 397.5,219.0 398.0,217.5 397.8,216.5 398.7,214.8 399.0,213.4Z" fill="#04141a"/><path d="M381.7,224.8 381.3,225.7 380.8,226.0 381.3,226.8 384.0,229.3 385.9,230.8 388.3,233.2 390.7,235.2 391.7,235.7 392.8,233.7 393.5,233.2 394.9,232.9 395.0,232.3 395.0,231.3 394.7,230.1 394.7,229.1 394.8,228.3 394.8,225.8 395.6,223.7 394.6,223.7 393.0,224.2 392.0,223.8 390.0,224.0 388.1,223.5 387.8,224.3 386.9,224.9 385.0,224.8 383.6,224.3Z" fill="#0f4b4e"/><path d="M394.9,233.0 393.5,233.3 392.8,233.7 391.7,235.7 392.2,236.1 393.7,236.6 395.2,236.5 395.2,234.5Z" fill="#0f4b4e"/><path d="M375.5,294.7 374.3,295.0 374.0,295.3 374.7,297.0 375.0,297.2 376.2,296.5 376.5,296.1 375.9,294.9ZM322.5,301.5 324.9,304.2 326.4,306.2 326.9,308.4 327.9,310.4 328.3,310.7 330.0,310.9 332.2,310.1 334.7,309.4 337.8,309.6 342.5,309.1 345.1,309.4 348.2,309.3 348.4,309.0 348.0,308.0 348.1,307.8 353.1,306.3 355.1,305.3 358.4,302.0 360.1,300.9 360.2,300.7 359.6,299.2 359.1,296.4 360.0,294.5 361.6,292.4 363.8,290.2 366.4,288.2 371.3,285.2 374.3,284.0 376.3,282.5 376.7,281.9 377.2,280.0 377.2,279.7 376.6,279.2 376.3,278.4 375.8,278.5 371.6,277.2 368.7,276.0 363.9,274.4 359.2,272.3 357.7,271.5 357.3,271.1 357.1,270.3 355.7,270.4 349.8,268.8 343.2,267.8 333.8,264.7 331.2,263.6 328.3,262.8 325.6,263.5 323.2,264.9 322.9,265.3 323.4,266.8 324.5,269.0 324.5,270.2 325.5,270.5 326.3,272.6 327.8,273.6 330.0,274.1 332.0,275.0 333.5,276.2 333.5,276.5 333.0,278.5 331.4,280.0 329.8,282.1 328.7,284.3 328.3,286.3 327.0,288.8 325.8,290.6 326.1,293.3 325.1,295.3 325.5,297.6 322.8,300.5Z" fill="#63a19e"/><path d="M324.5,270.2 323.7,271.2 323.0,272.7 321.6,278.2 316.2,291.6 316.5,294.3 315.7,296.9 316.1,298.9 316.4,299.5 318.1,300.5 320.2,301.1 321.8,301.2 322.3,301.5 322.8,300.5 325.5,297.6 325.0,295.3 326.0,293.3 325.8,290.6 327.0,288.8 328.2,286.3 328.7,284.3 329.8,282.1 331.3,280.0 332.9,278.5 333.5,276.5 333.4,276.2 332.0,275.0 330.0,274.2 327.8,273.7 326.3,272.7 325.4,270.5Z" fill="#76b5ab"/><path d="M418.5,232.5 418.7,233.7 419.6,235.3 424.2,240.7 424.7,240.8 427.5,240.7 430.0,239.7 432.1,239.7 435.2,240.2 437.5,240.3 439.6,238.0 441.5,236.6 442.5,234.6 440.8,233.0 438.6,232.1 436.0,231.6 433.4,230.5 431.0,228.9 428.0,228.3 426.8,227.4 425.2,227.9 421.9,229.7 419.0,231.7Z" fill="#9dd0c5"/><path d="M460.5,236.4 460.4,236.0 454.1,234.1 451.1,234.9 447.9,235.1 445.2,235.6 442.5,234.6 441.6,236.6 439.6,238.1 437.5,240.3 438.6,242.6 439.7,243.0 442.6,243.6 445.5,242.1 451.3,241.2 454.5,239.9 457.6,239.6 460.0,238.7 460.3,238.7Z" fill="#cae6e1"/><path d="M460.4,238.7 460.0,238.7 457.6,239.7 454.5,240.0 451.3,241.2 445.5,242.2 442.6,243.7 440.2,243.2 438.6,242.7 438.0,243.5 438.0,244.1 437.1,245.4 436.0,247.8 436.3,250.3 438.1,252.0 438.3,252.6 438.5,253.7 440.2,255.2 442.0,255.9 443.2,256.1 447.7,256.1 448.5,255.3 452.0,254.4 455.0,254.7 455.7,253.6 457.5,252.0 458.5,249.7 459.6,245.2 460.7,242.1 461.1,241.5 460.9,241.2 460.9,240.2Z" fill="#cce7e2"/><path d="M438.2,252.3 437.8,251.7 436.3,250.4 435.0,250.7 433.4,252.1 432.5,252.7 428.3,253.9 424.6,254.4 424.5,257.2 425.2,257.2 425.8,257.5 426.8,258.8 427.8,259.2 428.5,259.7 428.9,259.3 431.6,259.1 434.5,256.2 435.2,254.2 435.9,254.3 438.3,253.7Z" fill="#7dbcb0"/><path d="M435.2,254.2 434.8,255.8 434.6,256.2 431.7,259.1 428.9,259.4 428.6,259.7 429.2,260.7 430.3,261.8 432.0,262.4 432.4,262.2 433.1,261.1 434.3,262.3 435.7,264.7 437.6,267.1 442.5,271.9 442.7,271.7 440.4,269.2 438.0,266.0 436.7,262.5 437.0,262.4 437.3,261.8 437.6,261.6 440.2,260.8 442.6,260.9 447.4,261.7 448.0,260.8 448.3,258.8 447.8,256.5 447.7,256.2 443.2,256.2 442.0,256.0 440.2,255.2 438.4,253.7 435.9,254.4Z" fill="#d5e9e5"/><path d="M438.5,242.5 437.5,240.4 437.3,240.3 435.2,240.2 432.1,239.8 430.0,239.8 427.5,240.7 424.2,240.8 423.8,241.8 421.3,244.4 421.0,245.2 421.0,245.7 421.2,246.5 420.7,247.3 418.4,247.3 414.2,248.4 412.3,248.3 410.3,247.9 409.3,247.9 409.2,249.2 409.6,249.5 410.0,251.2 410.3,251.5 410.8,252.7 412.5,252.6 414.6,252.1 417.2,252.1 418.5,252.3 420.1,252.9 422.2,253.4 424.5,254.4 428.3,253.8 432.5,252.6 433.4,252.0 435.0,250.7 436.2,250.3 435.9,247.8 437.0,245.4 438.0,244.1 437.9,243.5 438.5,242.7Z" fill="#206864"/><path d="M458.0,203.5 457.2,202.8 455.5,202.2 455.1,202.5 454.2,203.6 450.8,203.9 444.1,203.9 441.5,204.1 441.0,203.6 440.4,203.9 439.1,204.2 437.0,203.2 433.1,205.4 429.4,207.0 426.0,207.8 424.8,208.3 423.7,208.3 423.5,209.0 424.8,211.0 424.2,213.1 425.0,215.0 425.8,217.5 425.5,219.6 426.7,221.8 427.6,224.3 427.5,226.0 426.8,227.4 428.0,228.2 431.0,228.8 433.4,230.5 436.0,231.5 438.6,232.0 440.8,232.9 442.5,234.5 445.0,235.5 447.9,235.0 451.1,234.8 454.1,234.0 460.5,236.0 461.5,234.0 461.0,231.7 461.4,228.7 463.5,223.5 462.4,220.9 461.7,217.4 461.0,215.5 461.2,214.4 460.5,210.0 460.1,209.0 460.2,208.7 459.5,206.2Z" fill="#c2e2dc"/><path d="M455.3,202.2 454.9,201.2 454.5,200.8 448.7,199.8 448.2,199.5 447.5,200.2 445.0,200.7 442.3,201.7 441.6,203.1 441.2,203.5 441.5,204.0 444.1,203.8 450.8,203.8 454.2,203.5Z" fill="#f0f2f1"/><path d="M468.5,164.7 461.6,167.2 457.0,168.7 452.7,170.8 452.7,171.2 453.3,174.3 454.6,176.1 456.7,177.7 458.3,179.3 458.4,179.7 462.4,178.7 465.8,179.2 468.5,178.7 468.0,176.5 467.0,174.1 466.5,171.2 468.5,165.1Z" fill="#8ecabd"/><path d="M471.5,187.1 471.0,184.5 470.0,181.7 468.5,178.7 466.2,179.2 462.4,178.7 458.4,179.8 458.5,180.6 458.2,181.8 457.2,184.8 455.0,185.6 452.6,184.2 449.5,183.2 449.2,183.4 447.7,186.0 448.1,189.5 448.6,189.5 452.0,190.7 455.8,190.2 460.7,190.0 464.1,190.2 467.0,191.2 469.2,189.1 471.3,187.4Z" fill="#e3eeec"/><path d="M448.1,189.5 447.7,195.2 448.5,198.2 448.5,199.0 448.3,199.5 448.5,199.7 454.5,200.8 455.0,201.2 455.4,202.2 457.0,202.7 459.5,202.0 462.5,201.7 464.5,199.7 466.5,194.3 466.9,191.2 464.1,190.2 460.7,190.0 455.8,190.2 452.0,190.7 448.6,189.5Z" fill="#e3eeec"/><path d="M481.0,188.5 478.2,187.2 474.8,186.9 471.5,187.3 469.2,189.2 467.0,191.2 466.5,194.3 464.5,199.7 462.5,201.7 459.5,202.0 457.7,202.5 457.2,202.8 458.1,203.5 459.6,206.2 460.2,208.7 460.2,209.0 460.5,210.0 461.3,214.4 461.0,215.5 461.8,217.4 462.0,219.0 463.5,217.5 467.3,215.9 472.5,215.1 481.6,214.5 486.5,214.4 488.0,209.5 489.2,207.2 489.2,205.9 488.0,203.5 489.5,202.0 491.0,199.5 484.9,194.5Z" fill="#f0f2f1"/><path d="M452.8,98.5 450.4,97.9 450.0,98.0 446.9,99.3 444.2,101.0 440.8,102.7 428.9,114.5 424.2,121.5 422.3,125.4 418.1,132.7 415.1,139.6 414.7,139.9 411.0,145.2 409.3,148.1 407.5,150.8 404.7,153.6 402.5,155.4 399.5,157.6 397.0,159.2 395.5,161.3 395.1,162.2 396.2,165.1 395.3,168.0 396.3,170.8 395.9,173.8 396.8,177.0 398.0,179.8 400.3,182.4 400.5,182.5 403.3,181.5 408.1,178.3 412.1,175.0 413.4,175.7 414.6,177.5 415.0,177.5 415.8,175.1 416.2,172.3 416.6,170.7 418.7,164.3 417.0,158.4 415.8,148.3 417.5,146.2 420.0,145.0 421.2,143.5 421.7,139.7 425.2,131.6 426.3,128.0 428.0,124.6 430.3,121.1 433.5,117.9 436.3,115.7 439.8,114.5 441.5,112.8 442.2,113.5 443.4,113.3 444.2,112.9 445.0,112.1 446.3,110.0 446.3,109.3 446.0,107.5 447.0,105.0 449.4,104.5 450.3,104.5 451.5,105.2 451.9,105.2 454.3,103.5 454.7,103.0 454.0,102.5 453.8,102.1 453.0,99.0Z" fill="#f0f2f1"/><path d="M438.1,183.8 436.7,184.2 436.5,184.5 437.0,186.5 437.3,186.7 438.6,186.2 438.8,185.8 438.4,184.0ZM441.5,112.8 439.8,114.6 436.1,115.9 433.5,118.0 430.4,121.1 428.0,124.6 426.3,128.0 425.2,131.6 421.7,139.7 421.2,143.5 420.0,145.1 417.5,146.3 415.8,148.3 417.1,158.4 418.8,164.3 416.3,171.8 415.8,175.1 415.0,177.6 414.6,177.6 414.6,180.2 415.5,183.8 417.3,187.3 420.7,197.6 422.8,199.3 424.0,198.8 424.4,198.5 425.9,196.7 428.4,194.2 430.0,191.5 431.0,187.7 430.7,184.0 431.3,180.8 433.1,178.4 436.6,172.5 435.9,169.3 433.5,167.0 431.9,164.2 431.3,161.0 431.0,157.0 431.3,153.8 433.0,151.0 433.8,147.2 436.9,143.2 438.5,140.5 439.4,138.1 440.0,135.3 441.7,131.4 444.6,130.4 444.0,127.0 442.0,121.0 441.1,118.8 440.0,116.6 440.5,115.4 442.2,113.6Z" fill="#206864"/><path d="M449.4,104.5 447.0,105.0 446.0,107.5 446.4,109.3 446.3,110.0 445.0,112.1 444.2,113.0 443.4,113.3 442.2,113.6 440.6,115.4 440.0,116.6 441.2,118.8 442.0,121.0 444.0,127.0 444.6,130.3 444.7,130.3 445.5,129.5 446.9,130.9 448.8,132.3 449.8,134.5 450.7,136.5 449.6,139.6 448.3,141.8 445.7,144.9 444.0,148.3 442.8,152.5 443.4,156.8 445.2,160.3 447.4,163.2 450.6,165.8 452.5,166.4 455.1,164.5 460.8,161.2 463.3,159.2 464.0,159.0 464.1,158.4 465.6,156.1 467.3,152.1 468.2,148.5 470.0,144.5 467.8,142.4 466.1,140.2 464.6,137.8 464.0,135.0 463.0,132.6 462.0,129.7 460.3,126.3 458.9,123.9 458.0,121.0 457.0,118.6 456.5,116.0 452.5,113.0 451.5,110.6 451.8,108.2 451.5,105.8 451.5,105.3 450.3,104.5Z" fill="#2e8278"/><path d="M412.3,198.7 412.1,198.7 410.6,199.2 410.8,201.1 411.0,201.6 411.5,201.6 412.8,201.0 412.7,199.8ZM415.8,196.0 413.9,197.2 413.7,197.5 414.0,199.8 415.8,201.0 416.2,200.7 417.4,199.0 417.9,197.1 417.7,196.7ZM410.0,187.2 409.7,187.4 408.5,189.8 406.8,191.8 404.9,193.0 403.5,194.7 403.0,197.0 403.3,199.0 404.2,201.8 405.6,204.2 406.3,204.0 407.5,203.0 407.3,202.5 407.3,201.6 410.8,194.6 410.4,192.0 411.2,189.2 410.3,187.3Z" fill="#0c2d3a"/><path d="M435.8,314.2 435.9,314.0 435.4,311.9 436.4,307.2 436.2,306.7 434.0,306.8 431.1,307.7 428.3,308.0 425.0,307.7 422.2,308.7 422.2,308.8 422.4,309.2 424.1,310.2 431.6,313.2 433.8,314.8 434.1,314.9ZM406.0,288.8 403.8,289.2 401.8,290.2 401.7,290.5 401.7,292.7 402.2,294.9 401.7,298.2 402.2,300.2 404.0,301.4 405.9,301.0 406.3,300.7 407.3,298.7 407.9,296.2 408.2,293.3 407.9,290.5 407.5,290.0ZM395.8,256.6 395.6,258.3 396.3,264.0 397.1,265.7 397.3,266.5 397.0,268.0 397.8,268.9 398.5,270.2 402.2,268.3 404.4,267.9 406.8,268.3 409.5,269.4 411.3,270.8 414.1,274.6 416.0,276.5 414.7,277.3 414.7,277.7 427.4,287.9 432.3,290.8 434.3,292.8 438.2,294.8 438.2,296.6 439.2,299.0 439.5,301.5 438.5,304.0 437.8,306.8 438.2,307.2 439.2,306.8 441.3,301.8 443.3,300.7 444.4,298.5 442.9,296.5 441.9,294.0 442.3,291.8 443.5,291.2 445.6,292.0 448.3,293.5 449.9,293.9 450.2,293.8 450.4,293.5 449.2,291.2 446.7,289.7 437.8,285.3 436.7,283.2 433.6,282.7 430.8,280.8 427.9,278.3 427.8,277.3 425.7,275.2 424.3,273.3 423.2,271.2 420.4,267.5 419.6,265.1 419.4,262.5 420.3,260.8 423.6,257.5 424.1,257.2 424.5,257.2 424.5,254.5 422.5,253.6 418.3,252.3 417.2,252.2 414.6,252.2 412.5,252.7 410.8,252.7 410.6,254.2 409.7,255.7 408.0,256.3 407.2,257.7 405.5,258.8 402.5,256.8 401.2,257.7 399.5,258.3 396.5,256.3Z" fill="#2e8278"/><path d="M400.3,247.4 399.1,248.8 397.0,249.9 395.9,251.0 394.9,252.3 394.3,253.5 394.6,254.1 394.8,255.1 395.5,256.0 395.7,256.5 396.5,256.2 399.5,258.2 400.9,257.8 402.5,256.7 405.5,258.7 407.0,257.8 408.0,256.2 409.5,255.7 410.5,254.2 410.7,252.6 410.2,251.5 409.9,251.2 409.5,249.5 409.1,249.2 409.3,247.9 408.4,247.7 403.8,247.7 402.9,247.5Z" fill="#f0f2f1"/><path d="M478.7,237.0 475.5,237.6 472.9,239.2 470.1,240.1 461.2,241.5 460.8,241.8 459.7,245.2 458.5,249.7 457.7,251.8 455.8,253.6 455.1,254.7 456.2,256.0 459.5,259.3 460.8,260.2 462.2,261.6 465.7,263.3 467.3,264.8 470.8,265.2 474.0,264.8 478.3,264.2 479.8,263.6 481.7,262.3 483.3,261.5 486.3,260.6 489.8,259.3 491.3,258.5 491.4,258.1 491.9,257.8 491.8,256.9 492.4,255.6 492.0,253.5 492.1,252.3 491.0,251.8 489.0,252.1 487.5,250.0 487.0,247.0 486.0,244.5 479.9,238.5Z" fill="#c2e2dc"/><path d="M491.9,257.8 491.5,258.1 491.3,258.6 489.8,259.3 486.3,260.7 483.3,261.5 481.7,262.4 479.8,263.7 478.3,264.2 474.0,264.9 470.8,265.2 467.7,265.0 467.0,264.7 466.3,265.8 465.9,268.3 467.5,270.7 468.4,273.3 467.6,275.9 469.0,278.6 469.7,280.4 474.3,280.4 482.6,278.7 485.5,277.5 487.2,275.3 490.0,274.5 492.5,274.5 492.7,274.3 491.3,272.9 492.1,270.8 490.4,265.9 490.8,263.5 491.7,260.7 492.1,258.5Z" fill="#e3eeec"/><path d="M437.3,261.8 436.8,262.6 438.1,266.0 440.5,269.2 442.7,271.7 442.5,272.0 445.8,275.8 446.6,276.2 446.8,275.7 448.8,273.3 450.5,270.7 451.3,267.9 450.5,265.0 447.4,261.8 444.8,261.3 441.3,260.9 440.2,260.9 438.3,261.3Z" fill="#f0f2f1"/><path d="M448.3,255.5 447.7,256.2 448.3,258.0 448.3,258.8 448.0,260.8 447.5,261.8 450.6,265.2 451.3,268.0 450.5,270.8 453.0,273.7 455.6,274.3 458.1,273.3 461.0,274.5 461.8,276.7 463.8,275.8 466.3,275.0 468.3,273.3 467.5,270.7 465.8,268.3 466.3,265.8 467.0,264.7 466.0,263.6 464.7,262.8 462.2,261.7 460.8,260.3 459.5,259.3 455.0,254.7 452.0,254.5Z" fill="#f0f2f1"/><path d="M450.5,270.8 448.9,273.3 446.9,275.7 446.7,276.2 448.2,277.3 450.2,278.6 450.8,278.2 453.0,277.9 455.0,276.7 455.5,274.5 455.3,274.3 453.0,273.8Z" fill="#f4eeee"/><path d="M455.1,276.6 457.6,277.9 460.1,277.9 461.8,276.7 461.0,274.6 458.1,273.3 455.5,274.3Z" fill="#f4eeee"/><path d="M455.1,276.7 453.0,278.0 450.5,278.3 450.3,278.7 453.5,281.9 454.8,284.5 456.5,289.7 458.5,289.2 460.0,287.0 459.3,282.7 458.0,280.5 457.5,277.9Z" fill="#f4eeee"/><path d="M468.3,273.3 466.3,275.0 462.2,276.5 460.1,278.0 457.6,278.0 458.0,280.5 459.2,282.5 461.0,283.7 464.5,283.1 467.2,281.8 469.5,280.5 468.9,278.6 467.5,275.9Z" fill="#f0f2f1"/><path d="M479.8,317.3 480.0,318.5 480.3,318.7 487.2,319.1 492.0,318.9 492.3,318.7 492.6,317.7 492.5,317.3 492.2,317.2 484.4,316.7 480.2,317.0ZM466.3,304.2 466.3,304.5 467.7,306.1 469.2,306.9 469.5,308.7 469.8,309.2 470.9,309.5 471.2,309.4 472.0,308.2 473.1,309.7 474.3,309.5 474.8,309.3 474.8,308.9 474.2,307.6 474.0,306.0 475.1,305.3 475.3,305.0 474.0,303.4 471.3,302.5 469.2,302.6 468.3,302.8ZM487.0,275.5 485.5,277.5 482.6,278.8 474.3,280.5 469.6,280.5 464.8,283.1 461.1,283.8 459.3,282.5 460.1,287.1 458.5,289.2 456.7,289.6 456.5,289.8 460.3,291.8 460.0,294.3 460.0,294.7 461.9,296.6 464.1,298.0 465.2,299.8 465.5,299.9 467.7,299.3 470.0,299.1 472.4,300.3 475.3,301.4 479.0,302.2 479.3,302.1 479.5,301.7 478.9,300.5 475.2,299.1 472.8,298.5 472.7,298.3 472.0,296.6 472.4,293.9 472.3,293.5 472.0,293.3 471.3,293.6 471.1,293.5 468.5,289.1 467.5,286.7 468.6,285.9 470.4,285.9 472.0,287.4 474.2,286.8 474.4,286.5 473.5,284.7 475.1,283.9 483.8,282.5 486.2,281.2 487.3,281.1 487.4,278.8Z" fill="#f0f2f1"/><path d="M480.0,234.5 478.7,236.3 478.7,236.9 480.0,238.5 486.0,244.5 487.0,247.0 487.5,250.0 489.0,252.0 490.8,251.7 490.6,250.7 492.5,248.8 493.1,245.7 487.3,238.7 483.8,235.7Z" fill="#f0f2f1"/><path d="M527.5,210.7 522.3,210.7 518.1,210.1 514.5,211.3 510.7,212.0 507.0,210.1 503.2,209.5 496.8,204.5 493.2,205.1 490.2,207.2 489.2,207.2 488.1,209.5 486.8,214.0 486.5,214.5 481.6,214.5 471.8,215.2 467.0,216.0 463.5,217.5 462.0,219.0 462.5,220.9 463.5,223.6 461.5,228.5 461.0,231.3 461.5,234.0 460.5,236.0 460.4,238.6 461.0,240.2 461.0,241.2 461.2,241.5 466.8,240.5 469.8,240.1 472.9,239.1 475.5,237.5 478.6,236.9 478.7,236.3 480.1,234.4 483.8,235.7 487.3,238.6 493.2,245.7 492.5,248.8 490.7,250.7 490.8,251.7 492.2,252.2 492.8,251.5 495.3,245.2 499.6,241.0 503.1,239.8 507.3,239.2 510.2,239.4 509.5,241.3 507.2,243.6 507.2,244.0 509.7,245.8 513.6,249.7 514.0,249.7 514.2,249.2 514.7,246.6 517.0,245.4 518.5,243.2 518.2,242.8 515.8,242.2 513.4,240.9 512.9,238.7 513.5,236.5 517.8,233.4 522.0,231.0 526.5,228.0 527.2,227.9 528.1,228.0 528.1,227.7 528.7,226.4 526.8,224.4 529.3,221.9 530.0,218.2 528.1,214.5Z" fill="#f0f2f1"/><path d="M454.7,103.1 454.0,103.8 452.0,105.2 451.6,105.3 451.5,105.8 451.8,108.2 451.5,110.6 452.5,113.0 456.5,116.0 457.0,118.6 458.0,121.0 459.0,123.9 460.4,126.3 462.1,129.7 463.0,132.6 464.0,135.0 464.5,137.5 466.2,140.2 467.9,142.4 470.0,144.5 468.3,148.5 467.4,152.1 465.7,156.1 464.2,158.4 464.1,159.0 464.8,159.0 467.8,160.3 470.7,161.3 472.5,162.6 471.7,164.2 468.5,164.7 468.5,165.1 466.5,171.0 467.0,174.1 468.0,176.5 468.5,178.7 470.1,181.7 471.0,184.5 471.5,187.2 474.8,186.8 478.2,187.2 481.0,188.5 485.0,194.5 491.0,199.5 489.6,202.0 488.0,203.5 489.2,205.9 489.3,207.2 490.2,207.1 493.2,205.0 496.9,204.4 503.2,209.4 507.0,210.0 510.7,211.9 514.5,211.3 518.1,210.0 522.3,210.7 527.5,210.7 528.2,214.5 530.0,218.3 529.4,221.9 526.9,224.4 528.8,226.3 528.1,228.1 528.7,228.6 529.0,229.0 529.4,231.4 528.5,236.1 526.6,240.4 526.6,240.8 529.7,243.0 530.2,243.2 535.5,244.2 542.8,244.8 545.2,244.7 545.4,244.4 545.3,92.8 545.0,92.7 501.5,92.7 501.2,92.8 500.5,96.8 499.5,100.3 498.3,102.8 495.0,106.0 494.0,105.2 493.0,103.8 492.5,101.6 493.2,100.9 493.6,99.6 493.5,99.3 491.6,98.5 489.3,98.9 489.2,99.3 489.4,100.4 490.7,101.3 491.0,103.8 492.2,106.2 493.7,107.4 494.2,107.6 493.7,109.0 494.1,110.5 490.8,114.7 488.2,117.4 486.8,120.0 488.2,122.7 489.5,124.5 487.8,125.7 483.0,126.7 480.3,127.7 480.2,128.0 480.3,128.3 483.3,129.3 484.7,130.8 483.3,132.3 480.2,132.8 477.2,131.8 475.3,129.9 472.3,124.0 466.8,119.5 465.8,118.4 469.4,119.2 473.8,119.6 477.6,119.2 481.0,118.0 483.8,115.7 485.3,112.7 485.2,112.1 483.9,109.9 480.2,107.2 476.3,105.2 472.1,103.8 468.3,103.5 463.7,103.8Z" fill="#f0f2f1"/><path d="M545.8,264.1 545.2,263.9 536.9,264.7 531.9,264.7 527.4,263.9 523.0,264.7 518.5,266.2 513.7,268.6 510.2,271.3 504.4,277.2 504.6,276.0 504.2,275.7 501.8,276.3 498.3,276.7 495.3,275.8 492.8,274.3 492.5,274.6 490.0,274.6 487.2,275.4 487.1,275.8 487.5,278.8 487.3,281.1 487.9,281.3 489.2,282.5 494.3,280.0 500.2,279.2 500.7,279.3 499.3,279.8 488.4,286.4 488.2,286.8 488.9,289.1 493.5,293.7 496.6,299.8 499.8,301.5 507.0,304.3 510.2,305.2 513.4,303.7 516.5,300.6 519.3,299.2 526.7,300.7 527.0,300.6 530.5,298.5 533.7,296.9 539.5,292.5 541.5,293.0 545.1,295.2 545.7,295.3 545.9,295.0Z" fill="#f0f2f1"/><path d="M532.3,307.5 530.5,306.8 526.3,308.9 526.1,309.3 526.7,310.3 527.1,310.5 529.3,310.3 532.3,307.8Z" fill="#206864"/></g></g></svg>

<div class="abs" style="left:308px;top:719.3px;width:237px;height:0.8px;background:#4f7d84"></div>
<div class="abs" style="left:308.2px;top:723.4px;font-size:41.5px;line-height:47px;color:#9fd2c9;transform-origin:0 0;transform:scaleX(0.765)">31%</div>

<div class="abs" style="left:140.5px;top:814.5px;font-size:11px;font-weight:bold;color:#16222b;line-height:14px;letter-spacing:-0.58px">atomico</div><div class="abs" style="left:178.6px;top:817.3px;font-size:2.6px;line-height:3px;color:#6b787f">®</div>
<div class="abs" style="left:258.7px;top:817.4px;width:26.8px;height:8.8px;background:#0a0a0a"></div><div class="abs" style="left:259.3px;top:817.7px;color:#fff;font-size:7.9px;font-weight:bold;font-style:italic;line-height:8.4px;transform-origin:0 0;transform:scaleX(0.9);letter-spacing:-0.1px">SLUSH</div>
<div class="abs" style="left:311.3px;top:814.6px;font-size:13.2px;color:#2c3a50;line-height:15px;letter-spacing:-1.02px">orrick</div>
<svg class="abs" style="left:330px;top:805px" width="16" height="16" viewBox="0 0 16 16"><circle cx="8" cy="8.25" r="3.6" fill="none" stroke="#7c8d24" stroke-width="1.9"/></svg>
</body></html>
